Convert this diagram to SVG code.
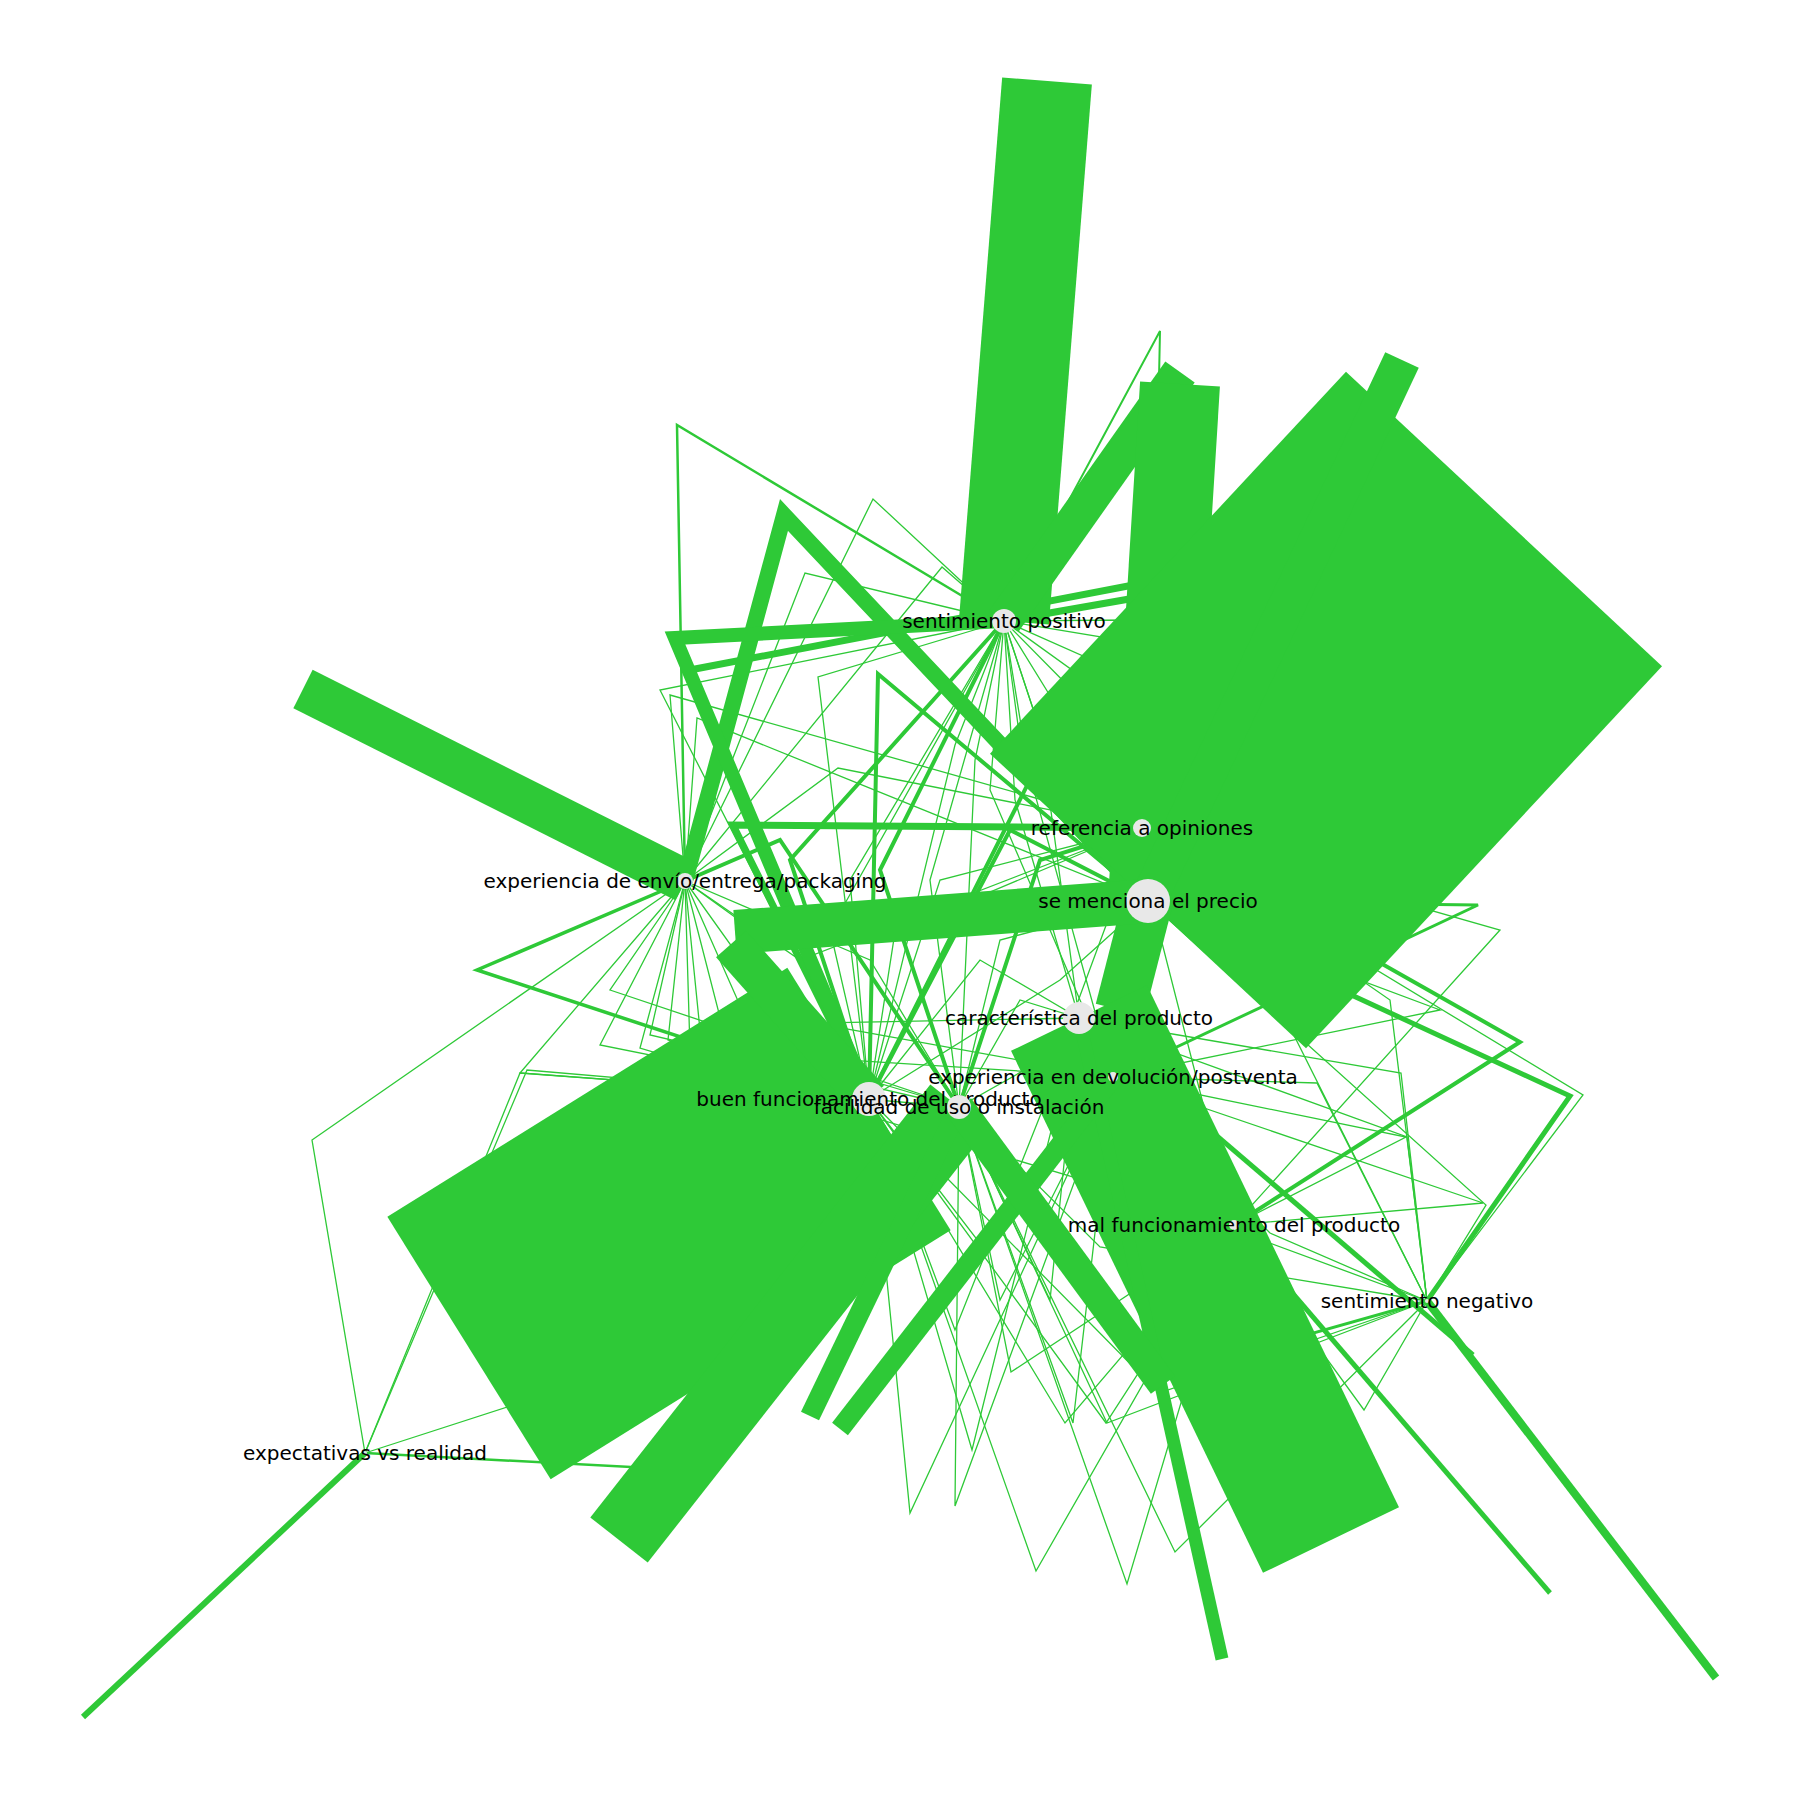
<svg xmlns="http://www.w3.org/2000/svg" width="1800" height="1800" viewBox="0 0 1800 1800">
<style>
.e{fill:none;stroke:#2ec937;stroke-linecap:butt;stroke-linejoin:miter}
.t{stroke-width:1.3}
.m{stroke-width:4}
.n{fill:#e8e8e8;stroke:none}
text{font-family:"DejaVu Sans","Liberation Sans",sans-serif;font-size:20px;fill:#000;text-anchor:middle;dominant-baseline:central}
</style>
<rect width="1800" height="1800" fill="#fff"/>
<g id="edges">
<g id="thin">
<polyline class="e t" points="1004,621 1050,760 1142,828"/>
<polyline class="e t" points="1004,621 1030,780 1148,901"/>
<polyline class="e t" points="1004,621 1015,800 1079,1018"/>
<polyline class="e t" points="1004,621 990,790 1113,1077"/>
<polyline class="e t" points="1004,621 975,760 959,1107"/>
<polyline class="e t" points="1004,621 955,745 869,1099"/>
<polyline class="e t" points="1004,621 1065,720 1148,901"/>
<polyline class="e t" points="1004,621 1082,700 1142,828"/>
<polyline class="e t" points="1004,621 1097,688 1234,1225"/>
<polyline class="e t" points="1004,621 1110,668 1427,1301"/>
<polyline class="e t" points="1004,621 1040,730 1079,1018"/>
<polyline class="e t" points="1004,621 1020,740 1113,1077"/>
<polyline class="e t" points="1004,621 942,567 685,881"/>
<polyline class="e t" points="1004,621 873,499 685,881"/>
<polyline class="e t" points="1004,621 805,573 685,881"/>
<polyline class="e" stroke-width="2" points="1004,621 1160,331 1148,901"/>
<polyline class="e t" points="1004,621 818,677 869,1099"/>
<polyline class="e t" points="1004,621 660,690 869,1099"/>
<polyline class="e t" points="1004,621 1120,640 1148,901"/>
<polyline class="e t" points="1004,621 1130,620 1142,828"/>
<polyline class="e t" points="685,881 520,1073 869,1099"/>
<polyline class="e t" points="685,881 312,1140 365,1453"/>
<polyline class="e t" points="685,881 600,1045 869,1099"/>
<polyline class="e t" points="685,881 650,1035 959,1107"/>
<polyline class="e t" points="685,881 668,1040 869,1099"/>
<polyline class="e t" points="685,881 700,1030 959,1107"/>
<polyline class="e t" points="685,881 722,1025 1079,1018"/>
<polyline class="e t" points="685,881 742,1010 1113,1077"/>
<polyline class="e t" points="685,881 770,1000 869,1099"/>
<polyline class="e t" points="685,881 800,960 1142,828"/>
<polyline class="e t" points="685,881 760,935 1148,901"/>
<polyline class="e t" points="685,881 640,1048 1234,1225"/>
<polyline class="e t" points="685,881 670,695 1142,828"/>
<polyline class="e t" points="685,881 697,718 1148,901"/>
<polyline class="e t" points="685,881 838,768 1142,828"/>
<polyline class="e t" points="685,881 610,990 959,1107"/>
<polyline class="e t" points="685,881 690,1050 1113,1077"/>
<polyline class="e t" points="869,1099 900,900 1148,901"/>
<polyline class="e t" points="869,1099 940,880 1142,828"/>
<polyline class="e t" points="869,1099 980,960 1079,1018"/>
<polyline class="e t" points="869,1099 850,880 1004,621"/>
<polyline class="e t" points="869,1099 830,930 1004,621"/>
<polyline class="e t" points="959,1107 900,930 1142,828"/>
<polyline class="e t" points="959,1107 1000,940 1148,901"/>
<polyline class="e t" points="959,1107 930,880 1004,621"/>
<polyline class="e t" points="959,1107 1020,1000 1079,1018"/>
<polyline class="e t" points="959,1107 870,960 685,881"/>
<polyline class="e t" points="869,1099 1060,980 1148,901"/>
<polyline class="e t" points="959,1107 1060,1050 1142,828"/>
<polyline class="e t" points="869,1099 910,1513 1113,1077"/>
<polyline class="e t" points="959,1107 955,1506 1113,1077"/>
<polyline class="e t" points="869,1099 1036,1571 1234,1225"/>
<polyline class="e t" points="959,1107 1127,1584 1234,1225"/>
<polyline class="e t" points="959,1107 1175,1552 1427,1301"/>
<polyline class="e t" points="869,1099 1065,1423 1234,1225"/>
<polyline class="e t" points="959,1107 1107,1423 1427,1301"/>
<polyline class="e t" points="869,1099 972,1450 1079,1018"/>
<polyline class="e t" points="959,1107 1011,1372 1234,1225"/>
<polyline class="e t" points="869,1099 1159,1393 1427,1301"/>
<polyline class="e t" points="1079,1018 955,1330 869,1099"/>
<polyline class="e t" points="1113,1077 1000,1300 959,1107"/>
<polyline class="e t" points="959,1107 1073,1423 1113,1077"/>
<polyline class="e t" points="869,1099 1106,1423 1234,1225"/>
<polyline class="e t" points="869,1099 985,1250 1113,1077"/>
<polyline class="e t" points="1079,1018 1050,1300 959,1107"/>
<polyline class="e t" points="1142,828 1583,1095 1427,1301"/>
<polyline class="e t" points="1079,1018 1401,1073 1427,1301"/>
<polyline class="e t" points="1113,1077 1406,1137 1234,1225"/>
<polyline class="e t" points="1148,901 1486,1205 1427,1301"/>
<polyline class="e t" points="1079,1018 1364,1410 1427,1301"/>
<polyline class="e t" points="1234,1225 1483,1203 1113,1077"/>
<polyline class="e t" points="1113,1077 1317,1083 1427,1301"/>
<polyline class="e t" points="1079,1018 1407,1137 1427,1301"/>
<polyline class="e t" points="1427,1301 1390,1000 1142,828"/>
<polyline class="e t" points="1427,1301 1240,1232 1079,1018"/>
<polyline class="e t" points="1427,1301 1100,1247 959,1107"/>
<polyline class="e t" points="1427,1301 1270,1233 1113,1077"/>
<polyline class="e t" points="1142,828 1500,930 1234,1225"/>
<polyline class="e t" points="1148,901 1440,1010 1113,1077"/>
<polyline class="e t" points="365,1453 520,1073 869,1099"/>
<polyline class="e t" points="365,1453 527,1070 959,1107"/>
<polyline class="e t" points="365,1453 560,1390 869,1099"/>
<polyline class="e" stroke-width="2.5" points="365,1453 650,1468 869,1099"/>
</g>
<g id="medium">
<polyline class="e m" points="1148,901 878,674 869,1099"/>
<polyline class="e" stroke-width="7" points="869,1099 733,825 1142,828"/>
<polyline class="e" stroke-width="7" points="869,1099 690,670 1175,577"/>
<polyline class="e" stroke-width="7" points="1004,621 1135,598"/>
<polyline class="e m" points="869,1099 790,860 1004,621"/>
<polyline class="e m" points="869,1099 1010,830 1148,901"/>
<polyline class="e m" points="959,1107 1040,860 1142,828"/>
<polyline class="e m" points="959,1107 880,870 1004,621"/>
<polyline class="e m" points="869,1099 1050,740 1142,828"/>
<polyline class="e m" points="959,1107 780,840 685,881"/>
<polyline class="e" stroke-width="3.5" points="685,881 477,970 869,1099"/>
<polyline class="e" stroke-width="2.5" points="1004,621 677,425 685,881"/>
<polyline class="e m" points="1142,828 1520,1042 1234,1225"/>
<polyline class="e" stroke-width="3" points="1148,901 1478,905 1113,1077"/>
<polyline class="e" stroke-width="5" points="1079,1018 1473,1355"/>
<polyline class="e" stroke-width="5" points="1234,1225 1550,1593"/>
<polyline class="e" stroke-width="3" points="959,1107 1154,1378 1427,1301"/>
<polyline class="e" stroke-width="5" points="1148,901 1570,1096 1427,1301"/>
</g>
<g id="thick">
<polyline class="e" stroke-width="16" points="685,881 784,515 1148,901"/>
<polyline class="e" stroke-width="14" points="1004,621 675,638 869,1099"/>
<path class="e" stroke-width="90" d="M1004,621L1047,81"/>
<path class="e" stroke-width="36" d="M1004,621L1180,372"/>
<path class="e" stroke-width="80" d="M1148,901L1180,384"/>
<path class="e" stroke-width="432" d="M1148,901L1504,519"/>
<path class="e" stroke-width="37" d="M1148,901L1402,360"/>
<path class="e" stroke-width="50" d="M1148,901L1120,1010"/>
<path class="e" stroke-width="309" d="M869,1099L469,1348"/>
<path class="e" stroke-width="73" d="M959,1107L619,1540"/>
<path class="e" stroke-width="151" d="M1079,1018L1331,1540"/>
<path class="e" stroke-width="43" d="M685,881L303,689"/>
<path class="e" stroke-width="13" d="M1079,1018L1222,1659"/>
<path class="e" stroke-width="6" d="M365,1453L83,1717"/>
<path class="e" stroke-width="8" d="M1427,1301L1716,1678"/>
<path class="e" stroke-width="44" d="M1148,901L735,932"/>
<path class="e" stroke-width="40" d="M869,1099L731,944"/>
<path class="e" stroke-width="20" d="M959,1107L810,1416"/>
<path class="e" stroke-width="20" d="M1113,1077L840,1429"/>
<path class="e" stroke-width="30" d="M959,1107L1163,1385"/>
</g>
</g>
<g id="n-sp"><circle class="n" cx="1004" cy="621" r="12"/><text x="1004" y="621">sentimiento positivo</text></g>
<g id="n-ro"><circle class="n" cx="1142" cy="828" r="9"/><text x="1142" y="828">referencia a opiniones</text></g>
<g id="n-pr"><circle class="n" cx="1148" cy="901" r="22"/><text x="1148" y="901">se menciona el precio</text></g>
<g id="n-en"><circle class="n" cx="685" cy="881" r="8"/><text x="685" y="881">experiencia de envío/entrega/packaging</text></g>
<g id="n-ca"><circle class="n" cx="1079" cy="1018" r="16"/><text x="1079" y="1018">característica del producto</text></g>
<g id="n-de"><circle class="n" cx="1113" cy="1077" r="5"/><text x="1113" y="1077">experiencia en devolución/postventa</text></g>
<g id="n-bf"><circle class="n" cx="869" cy="1099" r="17"/><text x="869" y="1099">buen funcionamiento del producto</text></g>
<g id="n-fu"><circle class="n" cx="959" cy="1107" r="12"/><text x="959" y="1107">facilidad de uso o instalación</text></g>
<g id="n-mf"><circle class="n" cx="1234" cy="1225" r="5"/><text x="1234" y="1225">mal funcionamiento del producto</text></g>
<g id="n-sn"><circle class="n" cx="1427" cy="1301" r="2"/><text x="1427" y="1301">sentimiento negativo</text></g>
<g id="n-ex"><circle class="n" cx="365" cy="1453" r="2"/><text x="365" y="1453">expectativas vs realidad</text></g>
</svg>
